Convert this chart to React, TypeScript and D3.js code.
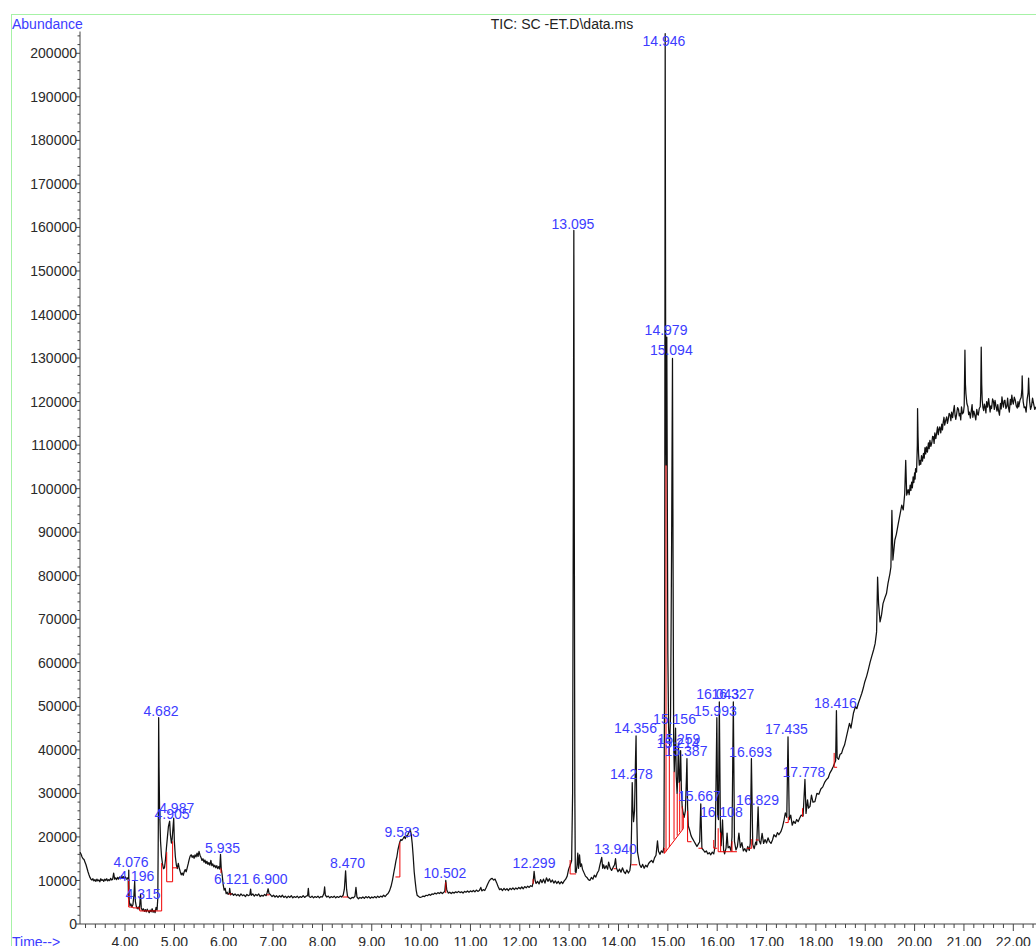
import * as React from "react"
import * as d3 from "d3"

const WIDTH = 1036
const HEIGHT = 946

const TITLE = "TIC: SC -ET.D\\data.ms"

// total ion chromatogram, [time (min), abundance]
const tic: [number, number][] = [
  [3.09, 16500], [3.11, 16000], [3.13, 15400], [3.15, 15000], [3.17, 14800], [3.19, 14200], [3.21, 13600],
  [3.23, 12800], [3.25, 12000], [3.27, 11300], [3.29, 10700], [3.31, 10300], [3.33, 10100], [3.35, 10400],
  [3.37, 9900], [3.39, 10200], [3.41, 9800], [3.43, 10300], [3.45, 9900], [3.47, 10100], [3.49, 9700],
  [3.51, 10400], [3.53, 10000], [3.55, 10200], [3.57, 9800], [3.59, 10300], [3.61, 10000], [3.63, 10400],
  [3.65, 9900], [3.67, 10200], [3.69, 10000], [3.71, 10500], [3.73, 10100], [3.75, 10300], [3.77, 11700],
  [3.79, 10300], [3.81, 10600], [3.83, 10200], [3.85, 10700], [3.87, 10300], [3.89, 10800], [3.91, 10400],
  [3.93, 11100], [3.95, 10500], [3.97, 10900], [3.99, 10400], [4.01, 10800], [4.03, 10300], [4.05, 10600],
  [4.065, 10200], [4.07, 6000], [4.076, 12400], [4.085, 5500], [4.1, 4200], [4.12, 4600], [4.14, 3900],
  [4.16, 4400], [4.18, 6500], [4.196, 9800], [4.21, 5200], [4.23, 4000], [4.25, 3500], [4.27, 3900],
  [4.29, 3300], [4.3, 4600], [4.315, 6800], [4.33, 3700], [4.35, 3100], [4.37, 3500], [4.39, 2900],
  [4.41, 3300], [4.43, 2800], [4.45, 3400], [4.47, 3000], [4.49, 2600], [4.51, 3200], [4.53, 2800],
  [4.55, 3500], [4.57, 2700], [4.59, 3100], [4.61, 2600], [4.63, 3800], [4.65, 3200], [4.665, 6000],
  [4.675, 22000], [4.682, 47400], [4.69, 36000], [4.7, 27000], [4.72, 19000], [4.74, 15500], [4.76, 13800],
  [4.78, 12700], [4.8, 12900], [4.82, 14800], [4.84, 17500], [4.86, 20000], [4.88, 22400], [4.905, 23600],
  [4.92, 20500], [4.94, 18600], [4.955, 19500], [4.987, 24300], [5.0, 19000], [5.02, 15500], [5.04, 13600],
  [5.06, 12700], [5.08, 13900], [5.1, 12800], [5.12, 12000], [5.14, 11300], [5.16, 11700], [5.18, 11200],
  [5.2, 12000], [5.22, 12500], [5.24, 12000], [5.26, 12900], [5.28, 13800], [5.3, 14800], [5.32, 15600],
  [5.34, 15900], [5.36, 15300], [5.38, 15700], [5.4, 15100], [5.42, 15900], [5.44, 15400], [5.46, 16300],
  [5.48, 15500], [5.5, 16700], [5.52, 15800], [5.54, 15300], [5.56, 14600], [5.58, 15000], [5.6, 14200],
  [5.62, 14700], [5.64, 13900], [5.66, 14400], [5.68, 13700], [5.7, 14100], [5.72, 13500], [5.74, 14600],
  [5.76, 13400], [5.78, 13800], [5.8, 13100], [5.82, 13500], [5.84, 12900], [5.86, 13400], [5.88, 12700],
  [5.9, 13200], [5.92, 12600], [5.935, 16000], [5.95, 12800], [5.97, 11200], [5.99, 9000], [6.01, 7800],
  [6.03, 8200], [6.05, 7000], [6.07, 7300], [6.09, 6800], [6.11, 7000], [6.121, 8200], [6.14, 6700],
  [6.17, 7000], [6.2, 6600], [6.23, 6900], [6.26, 6500], [6.29, 6800], [6.32, 6400], [6.35, 6900],
  [6.38, 6500], [6.41, 6700], [6.44, 6300], [6.47, 6800], [6.5, 6500], [6.53, 6700], [6.545, 8000],
  [6.56, 6600], [6.59, 6900], [6.62, 6400], [6.65, 6800], [6.68, 6500], [6.71, 6900], [6.74, 6300],
  [6.77, 6600], [6.8, 6400], [6.83, 6800], [6.86, 6500], [6.88, 7200], [6.9, 8100], [6.92, 7000],
  [6.95, 6700], [6.98, 6300], [7.01, 6600], [7.04, 6200], [7.07, 6500], [7.1, 6100], [7.13, 6500],
  [7.16, 6200], [7.19, 6600], [7.22, 6100], [7.25, 6400], [7.28, 6000], [7.31, 6400], [7.34, 6100],
  [7.37, 6500], [7.4, 6000], [7.43, 6300], [7.46, 6100], [7.49, 6400], [7.52, 6000], [7.55, 6300],
  [7.58, 6100], [7.61, 6500], [7.64, 6100], [7.67, 6400], [7.7, 6500], [7.715, 8200], [7.73, 6300],
  [7.76, 6100], [7.79, 6400], [7.82, 6000], [7.85, 6300], [7.88, 6100], [7.91, 6400], [7.94, 6000],
  [7.97, 6300], [8.0, 6200], [8.03, 7000], [8.045, 8500], [8.06, 6600], [8.09, 6200], [8.12, 6400],
  [8.15, 6000], [8.18, 6300], [8.21, 6100], [8.24, 6400], [8.27, 6000], [8.3, 6300], [8.33, 6100],
  [8.36, 6400], [8.39, 6200], [8.42, 6600], [8.445, 8000], [8.47, 12200], [8.49, 8000], [8.51, 6300],
  [8.54, 6000], [8.57, 5800], [8.6, 6100], [8.63, 6000], [8.66, 6400], [8.68, 8400], [8.7, 6200],
  [8.73, 5800], [8.76, 6100], [8.79, 5900], [8.82, 6200], [8.85, 5900], [8.88, 6300], [8.91, 6000],
  [8.94, 6300], [8.97, 5900], [9.0, 6200], [9.03, 6000], [9.06, 6300], [9.09, 6000], [9.12, 6400],
  [9.15, 6100], [9.18, 6400], [9.21, 6200], [9.24, 6600], [9.27, 6300], [9.3, 6700], [9.33, 7000],
  [9.36, 7600], [9.39, 8600], [9.42, 10100], [9.45, 12000], [9.47, 13200], [9.49, 14500], [9.51, 15500],
  [9.53, 17000], [9.55, 18000], [9.57, 18900], [9.59, 19400], [9.61, 19200], [9.64, 19700], [9.66, 20100],
  [9.68, 19600], [9.7, 20300], [9.72, 20000], [9.74, 20800], [9.76, 21200], [9.78, 21700], [9.8, 20600],
  [9.82, 18500], [9.84, 15500], [9.86, 12000], [9.88, 9800], [9.9, 7800], [9.92, 6600], [9.95, 6300],
  [9.98, 6100], [10.01, 6200], [10.04, 6400], [10.07, 6300], [10.1, 6600], [10.13, 6500], [10.16, 6800],
  [10.19, 6600], [10.22, 6900], [10.25, 6800], [10.28, 7100], [10.31, 6900], [10.34, 7200], [10.37, 7000],
  [10.4, 7300], [10.43, 7000], [10.46, 7300], [10.48, 7500], [10.5, 10000], [10.52, 7800], [10.55, 7100],
  [10.58, 7300], [10.61, 7000], [10.64, 7300], [10.67, 7100], [10.7, 7400], [10.73, 7200], [10.76, 7500],
  [10.79, 7200], [10.82, 7400], [10.85, 7100], [10.88, 7500], [10.91, 7300], [10.94, 7600], [10.97, 7300],
  [11.0, 7600], [11.03, 7400], [11.06, 7700], [11.09, 7400], [11.12, 7800], [11.15, 7500], [11.18, 7700],
  [11.21, 8400], [11.23, 7600], [11.26, 7900], [11.29, 7700], [11.32, 8400], [11.35, 9200], [11.38, 9900],
  [11.41, 10300], [11.44, 10500], [11.47, 10100], [11.5, 10300], [11.53, 9500], [11.56, 8600], [11.59, 7900],
  [11.62, 8100], [11.65, 7700], [11.68, 8200], [11.71, 7800], [11.74, 8100], [11.77, 7700], [11.8, 8200],
  [11.83, 7900], [11.86, 8300], [11.89, 7900], [11.92, 8300], [11.95, 8000], [11.98, 8400], [12.01, 8100],
  [12.04, 8500], [12.07, 8100], [12.1, 8600], [12.13, 8300], [12.16, 8700], [12.19, 8400], [12.22, 8800],
  [12.25, 8600], [12.27, 9500], [12.29, 12100], [12.31, 10000], [12.33, 9300], [12.36, 9800], [12.39, 9200],
  [12.42, 10200], [12.45, 9500], [12.48, 10300], [12.51, 9400], [12.54, 10600], [12.57, 9800], [12.6, 10400],
  [12.63, 9600], [12.66, 10100], [12.69, 9400], [12.72, 9900], [12.75, 9300], [12.78, 9800], [12.81, 9200],
  [12.84, 9700], [12.87, 9300], [12.9, 9900], [12.93, 10300], [12.96, 11000], [12.99, 12600], [13.02, 13500],
  [13.05, 14500], [13.07, 30000], [13.085, 100000], [13.095, 159300], [13.105, 90000], [13.115, 30000],
  [13.125, 12000], [13.14, 11800], [13.16, 13500], [13.175, 16300], [13.19, 12800], [13.21, 15900],
  [13.23, 13200], [13.25, 13800], [13.27, 12600], [13.3, 11800], [13.33, 11000], [13.36, 10700],
  [13.39, 10200], [13.42, 10000], [13.45, 10700], [13.48, 10300], [13.51, 11200], [13.54, 10800],
  [13.57, 11700], [13.6, 12300], [13.62, 13400], [13.66, 15300], [13.68, 12800], [13.7, 13600],
  [13.72, 12700], [13.75, 13400], [13.78, 12600], [13.8, 14200], [13.83, 12900], [13.86, 12300],
  [13.89, 13000], [13.92, 13600], [13.94, 15000], [13.96, 12800], [13.99, 12000], [14.02, 12600],
  [14.05, 11900], [14.08, 12900], [14.11, 12000], [14.14, 11600], [14.17, 12400], [14.2, 11700],
  [14.23, 12300], [14.25, 14000], [14.265, 22000], [14.278, 32500], [14.29, 27000], [14.305, 23500],
  [14.325, 26000], [14.345, 38000], [14.356, 43200], [14.37, 25000], [14.385, 16500], [14.4, 15600],
  [14.43, 13600], [14.46, 13000], [14.49, 13700], [14.52, 12800], [14.55, 13500], [14.58, 13100],
  [14.61, 13900], [14.64, 14300], [14.67, 14600], [14.7, 14100], [14.73, 15200], [14.76, 15800],
  [14.79, 19100], [14.81, 16700], [14.84, 16000], [14.87, 16800], [14.9, 16400], [14.92, 17800],
  [14.935, 60000], [14.946, 204500], [14.957, 120000], [14.966, 105400], [14.979, 134800], [14.99, 95000],
  [15.0, 62000], [15.015, 45000], [15.035, 41000], [15.055, 48000], [15.075, 85000], [15.094, 129900],
  [15.105, 85000], [15.118, 42000], [15.13, 35000], [15.142, 39000], [15.156, 45000], [15.17, 34000],
  [15.188, 30000], [15.2, 34000], [15.214, 41500], [15.23, 32500], [15.245, 33000], [15.259, 39800],
  [15.275, 30500], [15.29, 27000], [15.31, 25500], [15.33, 24500], [15.355, 26000], [15.375, 33000],
  [15.387, 38000], [15.4, 27000], [15.415, 22500], [15.44, 21600], [15.47, 20300], [15.5, 19600],
  [15.53, 19000], [15.56, 18400], [15.59, 17800], [15.62, 18400], [15.645, 18900], [15.667, 27600],
  [15.69, 17400], [15.72, 17000], [15.75, 16500], [15.78, 16800], [15.81, 16100], [15.84, 16400],
  [15.87, 15900], [15.9, 16500], [15.93, 16100], [15.96, 18000], [15.993, 47400], [16.01, 25000],
  [16.025, 24000], [16.043, 51000], [16.065, 22000], [16.08, 18000], [16.108, 23900], [16.13, 17000],
  [16.15, 16100], [16.18, 17500], [16.2, 20900], [16.22, 17500], [16.25, 17800], [16.28, 16800],
  [16.3, 20000], [16.327, 51000], [16.35, 19000], [16.38, 17000], [16.41, 17800], [16.44, 20900],
  [16.47, 17600], [16.5, 18700], [16.53, 16800], [16.56, 17300], [16.59, 16600], [16.62, 17800],
  [16.65, 16900], [16.67, 18500], [16.693, 38000], [16.72, 18300], [16.75, 17300], [16.78, 18800],
  [16.8, 18200], [16.829, 26900], [16.85, 19200], [16.88, 18400], [16.91, 20800], [16.94, 18500],
  [16.97, 19400], [17.0, 18600], [17.03, 19800], [17.06, 18900], [17.09, 18500], [17.12, 19300],
  [17.15, 20500], [17.19, 20000], [17.22, 21000], [17.25, 20500], [17.29, 21200], [17.32, 22200],
  [17.35, 23600], [17.38, 25500], [17.41, 24500], [17.435, 43000], [17.46, 24000], [17.49, 25000],
  [17.52, 22700], [17.55, 23600], [17.58, 23100], [17.61, 24000], [17.64, 23500], [17.67, 24300],
  [17.7, 25000], [17.74, 24800], [17.778, 33200], [17.8, 25400], [17.83, 28500], [17.85, 26600],
  [17.88, 27000], [17.91, 29600], [17.94, 28000], [17.98, 28100], [18.02, 30000], [18.06, 29800],
  [18.1, 31000], [18.14, 31500], [18.18, 32600], [18.21, 33100], [18.25, 33600], [18.28, 34600],
  [18.32, 35400], [18.35, 36100], [18.38, 37000], [18.4, 37500], [18.416, 49000], [18.43, 38200],
  [18.46, 37800], [18.49, 39000], [18.52, 39200], [18.55, 40300], [18.58, 41100], [18.61, 42600],
  [18.65, 44600], [18.68, 46100], [18.71, 45000], [18.74, 47000], [18.76, 48400], [18.8, 49900],
  [18.83, 49500], [18.86, 50700], [18.9, 52000], [18.93, 53000], [18.96, 54200], [18.99, 55600],
  [19.03, 57000], [19.06, 58300], [19.1, 60200], [19.13, 61400], [19.17, 63000], [19.2, 64400],
  [19.23, 67100], [19.25, 79700], [19.27, 73600], [19.3, 69400], [19.33, 71000], [19.36, 73600],
  [19.4, 75000], [19.43, 75900], [19.46, 78200], [19.5, 80500], [19.52, 82000], [19.54, 95000],
  [19.56, 83600], [19.6, 88200], [19.63, 89500], [19.67, 92000], [19.7, 93800], [19.74, 96200],
  [19.77, 95100], [19.8, 98900], [19.82, 106500], [19.84, 98500], [19.87, 99800], [19.89, 98600],
  [19.91, 100800], [19.925, 99600], [19.94, 101500], [19.955, 100200], [19.97, 102700], [19.985, 101400],
  [20.0, 103600], [20.01, 102200], [20.02, 104600], [20.04, 103800], [20.055, 110000], [20.06, 118400],
  [20.07, 112000], [20.08, 108000], [20.095, 105400], [20.11, 106500], [20.125, 105600], [20.14, 107600],
  [20.16, 106300], [20.18, 108100], [20.195, 107000], [20.21, 109400], [20.225, 108000], [20.24, 109600],
  [20.26, 108400], [20.28, 110500], [20.295, 109200], [20.31, 111100], [20.33, 109700], [20.35, 110600],
  [20.365, 112000], [20.38, 111900], [20.395, 110400], [20.41, 112800], [20.43, 111500], [20.45, 113000],
  [20.465, 114200], [20.48, 112400], [20.495, 113600], [20.51, 114200], [20.53, 112800], [20.55, 114800],
  [20.565, 113500], [20.58, 115300], [20.595, 116400], [20.61, 114600], [20.63, 115700], [20.65, 116500],
  [20.665, 115000], [20.68, 115800], [20.7, 117300], [20.72, 116900], [20.735, 115600], [20.75, 117600],
  [20.77, 116300], [20.79, 118000], [20.805, 119100], [20.82, 116800], [20.835, 115900], [20.85, 117000],
  [20.87, 118600], [20.89, 118200], [20.905, 116700], [20.92, 117300], [20.935, 115800], [20.95, 118800],
  [20.97, 117200], [20.99, 117500], [21.005, 119000], [21.02, 131800], [21.03, 124000], [21.04, 121800],
  [21.06, 119500], [21.08, 118800], [21.095, 117000], [21.11, 117600], [21.13, 116200], [21.15, 118000],
  [21.165, 119300], [21.18, 116400], [21.2, 117800], [21.22, 116900], [21.24, 115800], [21.26, 118200],
  [21.275, 117100], [21.29, 116900], [21.31, 118400], [21.33, 118800], [21.34, 122000], [21.35, 132500],
  [21.36, 124000], [21.37, 120300], [21.385, 118600], [21.4, 117900], [21.415, 119400], [21.43, 118800],
  [21.445, 117400], [21.46, 120000], [21.48, 118700], [21.5, 120700], [21.515, 119200], [21.53, 117600],
  [21.545, 119000], [21.56, 118400], [21.58, 120600], [21.6, 119900], [21.615, 118200], [21.63, 120300],
  [21.65, 118900], [21.67, 117800], [21.685, 119300], [21.7, 118000], [21.72, 116900], [21.74, 119600],
  [21.755, 118300], [21.77, 121100], [21.785, 119700], [21.8, 118700], [21.815, 120200], [21.83, 120300],
  [21.85, 118400], [21.87, 119000], [21.885, 120800], [21.9, 118800], [21.92, 117600], [21.94, 120500],
  [21.955, 119300], [21.97, 121500], [21.985, 120100], [22.0, 119400], [22.02, 121000], [22.04, 120300],
  [22.06, 119000], [22.08, 118500], [22.095, 120000], [22.11, 118800], [22.135, 120300], [22.16, 121000],
  [22.175, 123000], [22.18, 125900], [22.19, 122000], [22.2, 120000], [22.22, 118600], [22.24, 118800],
  [22.26, 117600], [22.28, 120500], [22.3, 122000], [22.31, 125400], [22.32, 122500], [22.33, 120100],
  [22.35, 118200], [22.37, 119000], [22.39, 120800], [22.41, 119600], [22.435, 118200], [22.46, 118800],
]

// integration baselines and drop lines, [time, abundance]
const baselines: [number, number][][] = [
  [[4.075, 10300], [4.075, 3900], [4.16, 3900], [4.16, 3700], [4.3, 3700], [4.3, 3000], [4.743, 3000], [4.743, 14000]],
  [[4.845, 16500], [4.845, 9700], [4.965, 9700], [4.965, 19000]],
  [[4.965, 12900], [5.06, 12900]],
  [[5.945, 12800], [5.945, 11700]],
  [[6.1, 6900], [6.16, 6900]],
  [[6.87, 6700], [6.93, 6700]],
  [[8.41, 6200], [8.52, 6200]],
  [[9.48, 10800], [9.57, 10800], [9.57, 18800]],
  [[10.5, 7100], [10.5, 9600]],
  [[12.27, 9200], [12.27, 10300]],
  [[13.02, 14700], [13.02, 11500], [13.14, 11500]],
  [[13.9, 12700], [13.95, 12700]],
  [[14.26, 13600], [14.38, 13600]],
  [[14.928, 17500], [14.928, 16200], [15.313, 21900]],
  [[14.963, 16700], [14.963, 105400]],
  [[15.03, 17700], [15.03, 41000]],
  [[15.125, 19400], [15.125, 35000]],
  [[15.19, 20300], [15.19, 30000]],
  [[15.24, 21100], [15.24, 32500]],
  [[15.29, 21600], [15.29, 27000]],
  [[15.313, 21900], [15.313, 25000]],
  [[15.4, 26000], [15.4, 18900], [15.48, 18900]],
  [[15.62, 17400], [15.7, 17400]],
  [[15.93, 19300], [15.93, 17400], [16.0, 17400]],
  [[16.02, 22000], [16.02, 16600], [16.4, 16600]],
  [[16.07, 21000], [16.07, 16600]],
  [[16.3, 19000], [16.3, 16600]],
  [[16.6, 17400], [16.7, 17400], [16.7, 19500]],
  [[16.78, 19300], [16.84, 19300]],
  [[17.38, 23300], [17.44, 23300], [17.44, 24600]],
  [[17.73, 24600], [17.73, 26600]],
  [[18.37, 39300], [18.37, 36000], [18.43, 36000]],
]

// peak labels: [retention time text, label centre time, label baseline abundance]
const peakLabels: [string, number, number][] = [
  ["4.076", 4.122, 13090], ["4.196", 4.237, 9940], ["4.315", 4.365, 5670], ["4.682", 4.729, 47830],
  ["4.905", 4.952, 24110], ["4.987", 5.048, 25420], ["5.935", 5.976, 16370], ["6.121", 6.158, 9120],
  ["6.900", 6.938, 9120], ["8.470", 8.509, 12790], ["9.583", 9.613, 19910], ["10.502", 10.484, 10490],
  ["12.299", 12.288, 12930], ["13.095", 13.078, 159570], ["13.940", 13.939, 16030], ["14.278", 14.263, 33220],
  ["14.356", 14.345, 43780], ["14.946", 14.922, 201660], ["14.979", 14.963, 135400], ["15.094", 15.07, 130640],
  ["15.156", 15.135, 45850], ["15.214", 15.206, 40340], ["15.259", 15.226, 41330], ["15.387", 15.368, 38640],
  ["15.667", 15.641, 28240], ["15.993", 15.962, 47830], ["16.043", 16.01, 51660], ["16.108", 16.083, 24640],
  ["16.327", 16.32, 51660], ["16.693", 16.675, 38410], ["16.829", 16.817, 27320], ["17.435", 17.404, 43620],
  ["17.778", 17.759, 33680], ["18.416", 18.397, 49660],
]

const FONT = "'Liberation Sans', Arial, sans-serif"
const BLUE = "#3c3cff"

export default function App() {
  const x = d3.scaleLinear().domain([4, 22]).range([125, 125 + 18 * 49.35])
  const y = d3.scaleLinear().domain([0, 200000]).range([924, 53.3])

  const axisX = 80
  const axisY = y(0)

  const line = d3
    .line<[number, number]>()
    .x(d => x(d[0]))
    .y(d => y(d[1]))

  const xMajor = d3.range(4, 23, 1)
  const xMinor = d3.range(3.2, 22.5, 0.2).filter(t => Math.abs(t - Math.round(t)) > 0.01)
  const yMajor = d3.range(0, 200001, 10000)
  const yMinor = d3.range(2000, 204001, 2000).filter(v => v % 10000 !== 0)

  return (
    <div style={{ position: "absolute", left: 0, top: 0 }}>
      <svg width={WIDTH} height={HEIGHT} style={{ display: "block", background: "#fff" }} fontFamily={FONT}>
        <rect x={11.5} y={14.5} width={1100} height={1000} fill="none" stroke="#a6f2a6" strokeWidth={1} />

        <text x={12} y={29} fontSize={14} fill={BLUE}>Abundance</text>
        <text x={12} y={946.5} fontSize={14} fill={BLUE}>Time--&gt;</text>
        <text x={562} y={29} fontSize={14} fill="#222" textAnchor="middle">{TITLE}</text>

        {/* y axis */}
        <line x1={axisX} x2={axisX} y1={y(205000)} y2={axisY} stroke="#444" />
        {yMinor.map(v => (
          <line key={"ym" + v} x1={axisX - 2.5} x2={axisX} y1={y(v)} y2={y(v)} stroke="#444" />
        ))}
        {yMajor.map(v => (
          <g key={"yM" + v}>
            <line x1={axisX - 4} x2={axisX} y1={y(v)} y2={y(v)} stroke="#444" />
            <text x={axisX - 3} y={y(v)} dy="0.36em" fontSize={14} fill="#2a2a2a" textAnchor="end">
              {v}
            </text>
          </g>
        ))}

        {/* x axis */}
        <line x1={axisX} x2={WIDTH} y1={axisY} y2={axisY} stroke="#444" />
        {xMinor.map(t => (
          <line key={"xm" + t.toFixed(1)} x1={x(t)} x2={x(t)} y1={axisY} y2={axisY + 4} stroke="#444" />
        ))}
        {xMajor.map(t => (
          <g key={"xM" + t}>
            <line x1={x(t)} x2={x(t)} y1={axisY} y2={axisY + 7} stroke="#444" />
            <text x={x(t)} y={946.5} fontSize={14} fill="#2a2a2a" textAnchor="middle">
              {t.toFixed(2)}
            </text>
          </g>
        ))}

        {/* chromatogram */}
        <path d={line(tic) || ""} fill="none" stroke="#111" strokeWidth={1.25} strokeLinejoin="round" />

        {/* integration baselines */}
        {baselines.map((seg, i) => (
          <path key={"b" + i} d={line(seg) || ""} fill="none" stroke="#f00000" strokeWidth={1} />
        ))}

        {/* peak labels */}
        {peakLabels.map(([label, t, level]) => (
          <text key={label} x={x(t)} y={y(level)} fontSize={14} fill={BLUE} textAnchor="middle">
            {label}
          </text>
        ))}
      </svg>
    </div>
  )
}
